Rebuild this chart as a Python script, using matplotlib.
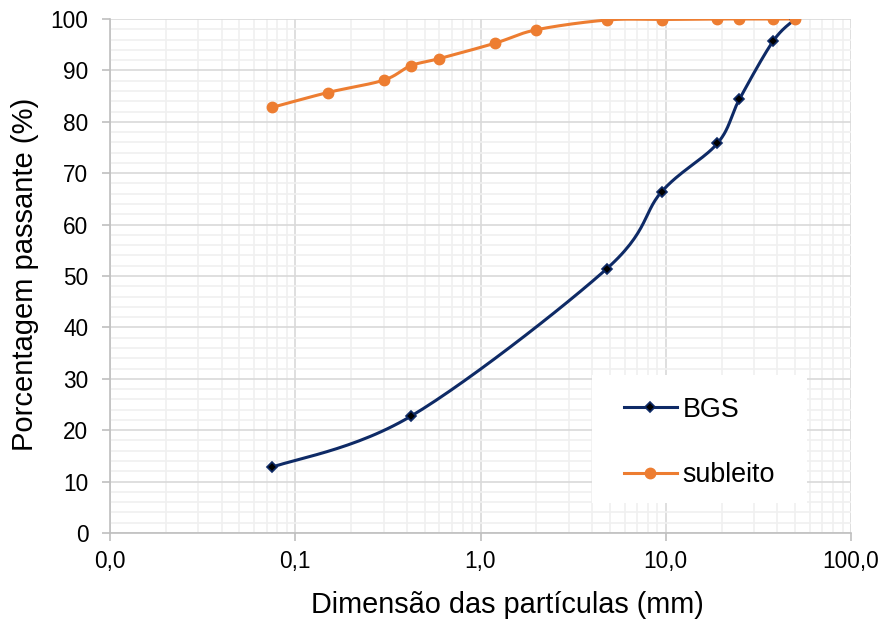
import numpy as np
import matplotlib.pyplot as plt
from matplotlib.patches import Rectangle
from matplotlib.ticker import FixedLocator, FixedFormatter, LogLocator, MultipleLocator, NullFormatter

plt.rcParams['font.family'] = ['Liberation Sans', 'DejaVu Sans']

# peneiras (mm) e porcentagem passante
bgs_mm = [0.075, 0.42, 4.8, 9.5, 19, 25, 38, 50]
bgs_pass = [12.8, 22.7, 51.4, 66.4, 75.8, 84.4, 95.7, 100]

sub_mm = [0.075, 0.15, 0.3, 0.42, 0.6, 1.2, 2.0, 4.8, 9.5, 19, 25, 38, 50]
sub_pass = [82.8, 85.7, 88.1, 90.9, 92.3, 95.3, 97.9, 99.8, 99.9, 100, 100, 100, 100]

x_ticks = [0.01, 0.1, 1, 10, 100]
x_labels = ['0,0', '0,1', '1,0', '10,0', '100,0']

NAVY = '#0e2a66'
ORANGE = '#ed7d31'


def smooth(ax, xs, ys, n=30):
    # curva suavizada (Catmull-Rom) em coordenadas de tela, como no Excel
    pts = ax.transData.transform(np.column_stack([xs, ys]))
    p = np.vstack([pts[0], pts, pts[-1]])
    out = []
    for i in range(1, len(p) - 2):
        p0, p1, p2, p3 = p[i - 1], p[i], p[i + 1], p[i + 2]
        c1 = p1 + (p2 - p0) / 6
        c2 = p2 - (p3 - p1) / 6
        t = np.linspace(0, 1, n)[:, None]
        seg = ((1 - t) ** 3) * p1 + 3 * ((1 - t) ** 2) * t * c1 + 3 * (1 - t) * t ** 2 * c2 + t ** 3 * p2
        out.append(seg if i == 1 else seg[1:])
    curve = ax.transData.inverted().transform(np.vstack(out))
    return curve[:, 0], curve[:, 1]


fig = plt.figure(figsize=(8.85, 6.26), dpi=100, facecolor='white')
ax = fig.add_axes([110 / 885, 93 / 626, 741 / 885, 514 / 626])

ax.set_xscale('log')
ax.set_xlim(0.01, 100)
ax.set_ylim(0, 100)

ax.xaxis.set_major_locator(FixedLocator(x_ticks))
ax.xaxis.set_major_formatter(FixedFormatter(x_labels))
ax.xaxis.set_minor_locator(LogLocator(base=10, subs=np.arange(2, 10)))
ax.xaxis.set_minor_formatter(NullFormatter())
ax.yaxis.set_major_locator(MultipleLocator(10))
ax.yaxis.set_minor_locator(MultipleLocator(2))

ax.grid(True, which='minor', color='#f0f0f0', lw=1.2)
ax.grid(True, which='major', color='#d9d9d9', lw=1.2)
ax.set_axisbelow(True)

for s in ['top', 'right']:
    ax.spines[s].set_visible(False)
for s in ['left', 'bottom']:
    ax.spines[s].set_color('#bfbfbf')
    ax.spines[s].set_linewidth(1.2)

ax.tick_params(which='major', length=5.5, width=1.2, color='#bfbfbf', labelsize=16.3)
ax.tick_params(axis='x', pad=6.5)
ax.tick_params(axis='y', pad=10)
ax.tick_params(which='minor', length=0)

fig.canvas.draw()

bx, by = smooth(ax, bgs_mm, bgs_pass)
sx, sy = smooth(ax, sub_mm, sub_pass)

ax.plot(bx, by, color=NAVY, lw=2.2, zorder=3)
ax.plot(bgs_mm, bgs_pass, ls='none', marker='D', ms=5.5, color=NAVY, mfc='black', mew=1.2, zorder=4)
ax.plot(sx, sy, color=ORANGE, lw=2.2, zorder=3)
ax.plot(sub_mm, sub_pass, ls='none', marker='o', ms=7.5, color=ORANGE, zorder=4)

# fundo branco da legenda
ax.add_patch(Rectangle((0.650, 0.058), 0.290, 0.249, transform=ax.transAxes,
                       facecolor='white', edgecolor='none', zorder=4.5))

h1, = ax.plot([], [], color=NAVY, lw=2.2, marker='D', ms=5.5, mfc='black', mew=1.2, label='BGS')
h2, = ax.plot([], [], color=ORANGE, lw=2.2, marker='o', ms=7.5, label='subleito')
leg = ax.legend(handles=[h1, h2], loc='upper left', bbox_to_anchor=(0.6937, 0.265),
                frameon=False, fontsize=19.4, handlelength=1.96, handletextpad=0.22,
                labelspacing=1.47, borderpad=0, borderaxespad=0)
leg.set_zorder(5)

ax.set_xlabel('Dimensão das partículas (mm)', fontsize=20.8)
ax.set_ylabel('Porcentagem passante (%)', fontsize=21)
ax.xaxis.set_label_coords(0.536, -0.112)
ax.yaxis.set_label_coords(-0.096, 0.503)

fig.savefig('out.png', dpi=100, facecolor='white')
